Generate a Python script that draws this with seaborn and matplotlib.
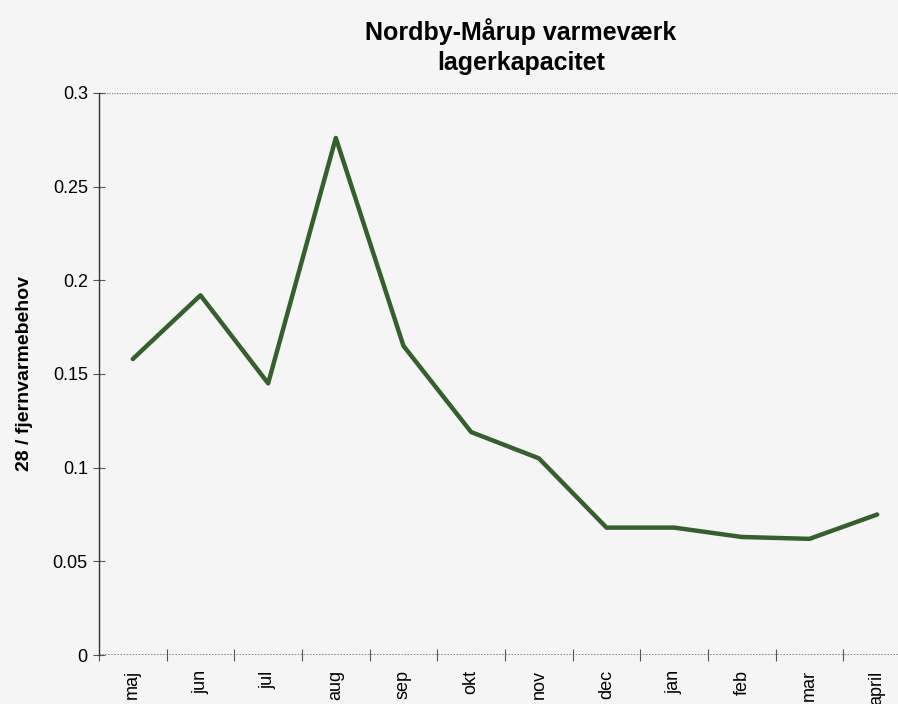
import matplotlib
matplotlib.use("Agg")
import matplotlib.pyplot as plt
import seaborn as sns
import pandas as pd
import numpy as np

# data
maaneder = ["maj", "jun", "jul", "aug", "sep", "okt", "nov", "dec", "jan", "feb", "mar", "april"]
kapacitet = [0.158, 0.192, 0.145, 0.276, 0.165, 0.119, 0.105, 0.068, 0.068, 0.063, 0.062, 0.075]
y_ticks = [0, 0.05, 0.1, 0.15, 0.2, 0.25, 0.3]

sns.set_style("white")
plt.rcParams["font.family"] = ["Liberation Sans", "DejaVu Sans"]
plt.rcParams["text.color"] = "black"
plt.rcParams["xtick.color"] = "black"
plt.rcParams["ytick.color"] = "black"
plt.rcParams["axes.labelcolor"] = "black"

df = pd.DataFrame({"pos": np.arange(len(maaneder)), "vaerdi": kapacitet})

fig = plt.figure(figsize=(8.98, 7.04), dpi=100, facecolor="#f5f5f5")
ax = fig.add_axes([0.1102, 0.0696, 0.9043, 0.7983])
ax.set_facecolor("#f5f5f5")

sns.lineplot(data=df, x="pos", y="vaerdi", ax=ax, color="#35602d", linewidth=3.2)

ax.set_xlim(-0.5, len(maaneder) - 0.5)
ax.set_ylim(0, 0.3)

# gridline at top and dotted baseline
ax.axhline(0.3, color="#888888", linestyle=(0, (1, 1)), linewidth=0.9, zorder=0)
ax.axhline(0, color="#666666", linestyle=(0, (1, 1)), linewidth=1.1, zorder=0)

for s in ["top", "right", "bottom"]:
    ax.spines[s].set_visible(False)
ax.spines["left"].set_color("#333333")
ax.spines["left"].set_linewidth(1.0)

ax.set_yticks(y_ticks)
ax.set_yticklabels(["0", "0.05", "0.1", "0.15", "0.2", "0.25", "0.3"], fontsize=13)
ax.tick_params(axis="y", direction="inout", length=8, width=0.8, color="#555555", pad=4, left=True)

ax.set_xticks(np.arange(len(maaneder)))
ax.set_xticklabels(maaneder, rotation=90, fontsize=13)
ax.set_xticks(np.arange(-0.5, len(maaneder)), minor=True)
ax.tick_params(axis="x", which="major", length=0, pad=11)
ax.tick_params(axis="x", which="minor", direction="inout", length=9, width=0.8, color="#555555", bottom=True)

ax.set_xlabel("")
ax.set_ylabel("28 / fjernvarmebehov", fontsize=14, fontweight="bold", labelpad=14)
fig.text(0.58, 0.934, "Nordby-Mårup varmeværk\nlagerkapacitet", ha="center", va="center",
         fontsize=18, fontweight="bold", linespacing=1.35)

fig.savefig("out.png", dpi=100, facecolor=fig.get_facecolor())
